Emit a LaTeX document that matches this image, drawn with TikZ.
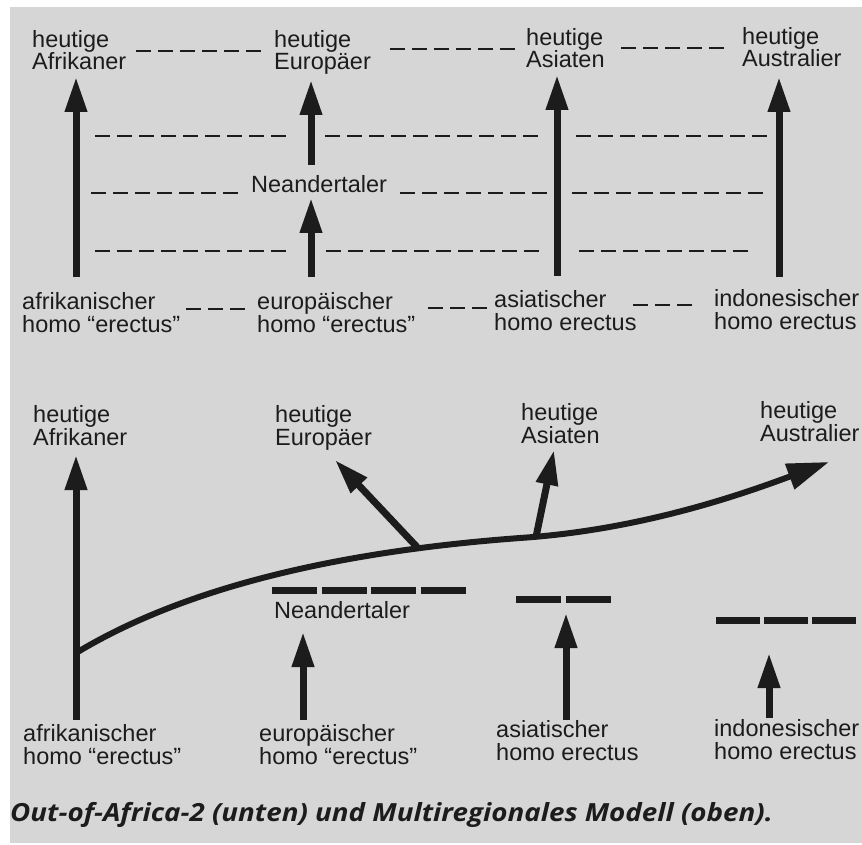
\documentclass[tikz,border=0pt]{standalone}
\usepackage{fontspec}
\setmainfont{Liberation Sans}
\newfontfamily\capfont{Open Sans}
\usetikzlibrary{arrows.meta}
\definecolor{paper}{RGB}{214,214,214}
\definecolor{ink}{RGB}{28,28,28}
\tikzset{
  lbl/.style={anchor=base west,align=left,inner sep=0pt,text=ink,
    font=\fontsize{23.5}{22.5}\selectfont},
  fatarrow/.style={draw=ink,line width=7pt,-{Triangle[width=21pt,length=35pt]}},
  thindash/.style={draw=ink,line width=2.4pt,dash pattern=on 15pt off 7pt},
  bardash/.style={draw=ink,line width=7pt,dash pattern=on 45pt off 4.5pt},
}
\begin{document}
\begin{tikzpicture}[x=1pt,y=-1pt]
\useasboundingbox (0,0) rectangle (862,845);
\fill[white] (0,0) rectangle (862,845);
\fill[paper] (10,7) rectangle (862,843);

% oben: multiregionales Modell
% (base = Grundlinie der letzten Zeile)
\node[lbl] (tAfr) at (32,70) {heutige\\Afrikaner};
\node[lbl] (tEur) at (274,70) {heutige\\Europäer};
\node[lbl] (tAsi) at (526,68) {heutige\\Asiaten};
\node[lbl] (tAus) at (742,67) {heutige\\Australier};
\node[lbl] (nea) at (251,193) {Neandertaler};
\node[lbl] (bAfr) at (22,332) {afrikanischer\\homo “erectus”};
\node[lbl] (bEur) at (257,332) {europäischer\\homo “erectus”};
\node[lbl] (bAsi) at (494,330) {asiatischer\\homo erectus};
\node[lbl] (bIdo) at (714,329) {indonesischer\\homo erectus};

\coordinate (afrS) at (76,277);  \coordinate (afrE) at (76,77);
\coordinate (eurS) at (311,277); \coordinate (eurM) at (311,198);
\coordinate (eurN) at (311,165); \coordinate (eurE) at (311,80);
\coordinate (asiS) at (557,276); \coordinate (asiE) at (557,75);
\coordinate (ausS) at (779,277); \coordinate (ausE) at (779,77);
\draw[fatarrow] (afrS) -- (afrE);
\draw[fatarrow] (eurS) -- (eurM);
\draw[fatarrow] (eurN) -- (eurE);
\draw[fatarrow] (asiS) -- (asiE);
\draw[fatarrow] (ausS) -- (ausE);

\foreach \y/\a/\b in {51/136/261, 49/390/515, 48/621/724,
    136/95/286, 136/325/538, 136/576/767,
    193/91/238, 193/400/547, 193/572/763,
    251/95/286, 251/326/539, 251/579/748,
    309/186/245, 308/428/487, 305/633/692}
  \draw[thindash] (\a,\y) -- (\b,\y);

% unten: out of africa
\node[lbl] (tAfr2) at (33,445) {heutige\\Afrikaner};
\node[lbl] (tEur2) at (275,445) {heutige\\Europäer};
\node[lbl] (tAsi2) at (521,443) {heutige\\Asiaten};
\node[lbl] (tAus2) at (760,441) {heutige\\Australier};
\node[lbl] (nea2) at (274,618) {Neandertaler};
\node[lbl] (bAfr2) at (23,764) {afrikanischer\\homo “erectus”};
\node[lbl] (bEur2) at (259,764) {europäischer\\homo “erectus”};
\node[lbl] (bAsi2) at (496,760) {asiatischer\\homo erectus};
\node[lbl] (bIdo2) at (714,759) {indonesischer\\homo erectus};

\coordinate (afr2S) at (76,720); \coordinate (afr2E) at (76,455);
\coordinate (fork) at (76,653);
\coordinate (mid) at (520,538);
\coordinate (ausTip) at (829,462);
\coordinate (eurFork) at (417,547); \coordinate (eur2E) at (335,460);
\coordinate (asiFork) at (536,537); \coordinate (asi2E) at (554,450);
\draw[fatarrow] (afr2S) -- (afr2E);
\draw[draw=ink,line width=6pt,-{Triangle[width=26pt,length=42pt]}]
  (fork) .. controls (180,590) and (330,552) .. (mid)
  .. controls (640,530) and (740,495) .. (ausTip);
\draw[fatarrow] (eurFork) -- (eur2E);
\draw[fatarrow] (asiFork) -- (asi2E);

\draw[bardash] (272,590) -- (465.5,590);
\draw[bardash] (516,599) -- (610.5,599);
\draw[bardash,dash pattern=on 44pt off 4pt] (716,620) -- (856,620);

\coordinate (eur3S) at (303,720); \coordinate (eur3E) at (303,632);
\coordinate (asi3S) at (566,720); \coordinate (asi3E) at (566,613);
\coordinate (ido3S) at (769,718); \coordinate (ido3E) at (769,653);
\draw[fatarrow] (eur3S) -- (eur3E);
\draw[fatarrow] (asi3S) -- (asi3E);
\draw[fatarrow] (ido3S) -- (ido3E);

\node[anchor=base west,inner sep=0pt,text=ink,font=\capfont\bfseries\itshape\fontsize{25}{27}\selectfont]
  (cap) at (10,821) {\scalebox{1.11}[1]{Out-of-Africa-2 (unten) und Multiregionales Modell (oben).}};
\end{tikzpicture}
\end{document}
